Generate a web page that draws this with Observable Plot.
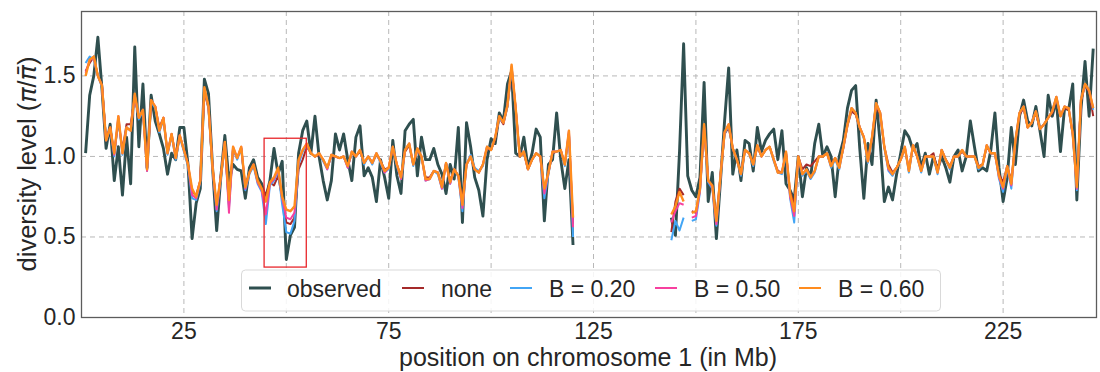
<!DOCTYPE html>
<html><head><meta charset="utf-8">
<script src="https://cdn.jsdelivr.net/npm/d3@7"></script>
<script src="https://cdn.jsdelivr.net/npm/@observablehq/plot@0.6"></script>
<style>
body{margin:0;background:#fff;}
#chart{width:1100px;height:372px;}
</style>
</head><body><div id="chart"></div>
<script>
// ---- data (positions in Mb) ----
const segA = d3.range(1, 121);     // 1..120 Mb
const segB = d3.range(144, 248);   // 144..247 Mb
const positions = segA.concat(segB);

const xTicks = [25, 75, 125, 175, 225];
const xGrid = [25, 50, 75, 100, 125, 150, 175, 200, 225];
const yTicks = [0.0, 0.5, 1.0, 1.5];
const yGrid = [0.5, 1.0, 1.5];
const seriesNames = ["observed", "none", "B = 0.20", "B = 0.50", "B = 0.60"];
const seriesColors = ["#2f4f4f", "#a52a2a", "#42a5f5", "#f7409f", "#ff8c1e"];
const highlight = {x1: 44.7, x2: 55.0, y1: 0.31, y2: 1.11};

const observed = [
 1.02,1.38,1.50,1.74,1.42,1.05,1.20,0.85,1.06,0.76,
 1.12,0.83,1.68,1.06,1.45,0.93,1.38,1.22,1.14,1.05,
 0.89,1.02,0.98,1.18,1.18,0.95,0.49,0.71,0.80,1.48,
 1.39,0.93,0.54,0.87,1.13,0.85,0.95,0.92,0.91,0.74,
 0.93,0.98,0.87,0.83,0.74,0.85,1.05,0.89,0.97,0.36,
 0.51,0.56,1.02,1.16,1.22,1.02,1.25,1.00,0.85,0.73,
 0.85,1.14,1.04,1.14,0.98,0.85,1.12,1.19,0.88,0.93,
 0.87,0.72,0.98,0.87,0.74,1.10,0.88,0.77,1.16,1.20,
 1.23,0.88,1.12,0.98,0.98,1.05,0.95,0.89,0.77,0.95,
 0.86,1.18,0.59,1.21,1.06,0.87,0.79,0.63,0.98,1.11,
 1.08,1.27,1.22,1.45,1.53,1.02,1.00,1.12,0.93,1.02,
 1.17,1.12,0.60,0.95,0.98,1.27,0.98,0.80,0.98,0.45,
 0.62,0.51,1.03,1.70,0.88,0.79,0.75,0.87,1.46,0.72,
 0.90,0.49,0.85,1.22,1.55,0.89,1.04,0.85,1.10,1.08,
 0.91,1.18,1.03,1.10,1.14,1.17,0.98,1.16,0.83,0.79,
 0.73,1.00,0.75,0.93,0.87,1.08,1.20,1.00,1.06,1.00,
 0.75,1.00,1.10,1.30,1.41,1.44,1.05,0.74,1.08,0.95,
 1.35,1.08,0.72,0.81,0.73,0.89,1.02,1.16,1.12,1.04,
 1.08,0.93,1.02,0.89,1.00,0.92,1.00,0.93,0.84,1.00,
 1.04,0.91,1.00,1.22,1.06,0.91,0.93,0.91,1.04,1.27,
 0.93,0.72,0.87,1.18,0.95,1.25,1.35,1.22,1.19,1.31,
 1.16,1.00,1.38,1.25,1.35,1.03,1.30,1.29,1.45,0.73,
 1.29,1.59,1.25,1.67
];

const none = [
 1.53,1.58,1.62,1.50,1.44,1.10,1.18,1.02,1.22,1.04,
 1.20,1.20,1.37,1.24,1.28,0.95,1.33,1.31,1.18,1.24,
 1.02,1.14,1.00,1.13,1.04,0.95,0.78,0.76,0.85,1.40,
 1.30,0.93,0.68,0.88,1.08,0.70,1.05,0.99,1.05,0.81,
 0.90,0.95,0.85,0.80,0.76,0.84,0.82,0.88,0.74,0.59,
 0.58,0.62,0.92,0.98,1.06,1.02,1.00,1.01,0.98,0.93,
 1.00,1.00,0.99,1.00,0.94,1.02,1.00,1.03,0.96,1.00,
 0.96,1.01,0.97,0.92,0.93,1.05,0.95,0.88,1.03,1.07,
 0.95,1.04,1.00,0.87,0.87,0.91,0.90,0.82,0.96,0.85,
 0.92,0.88,0.72,0.95,1.00,0.92,0.90,0.95,1.05,1.04,
 1.11,1.24,1.20,1.31,1.54,1.30,1.00,1.02,0.92,0.98,
 1.02,1.00,0.79,0.90,1.02,1.03,1.04,0.95,1.14,0.58,
 0.53,0.72,0.80,0.76,null,0.66,0.65,0.80,1.18,0.85,
 0.82,0.62,0.88,1.14,1.18,1.05,0.98,0.90,1.04,1.02,
 0.95,1.06,1.00,1.04,1.06,0.98,0.91,0.90,1.02,0.78,
 0.70,1.00,0.92,0.95,0.94,0.97,1.00,1.00,1.02,0.95,
 0.99,0.94,1.05,1.19,1.28,1.26,1.18,1.12,0.97,1.11,
 1.31,1.26,1.06,0.95,0.90,0.93,0.98,1.05,0.92,1.06,
 1.00,0.92,1.00,1.00,1.02,0.91,1.04,0.98,0.94,1.00,
 1.00,1.03,1.00,1.00,1.00,0.94,0.95,1.06,1.02,1.02,
 0.89,0.84,0.94,0.85,1.09,1.26,1.30,1.18,1.21,1.27,
 1.17,1.20,1.24,1.27,1.36,1.25,1.30,1.29,1.14,0.82,
 1.34,1.44,1.40,1.25
];

const b020 = [
 1.58,1.62,1.60,1.50,1.43,1.10,1.17,1.00,1.24,1.01,
 1.18,1.16,1.38,1.23,1.28,0.91,1.34,1.30,1.15,1.23,
 1.01,1.13,0.98,1.12,1.03,0.94,0.74,0.73,0.84,1.42,
 1.30,0.92,0.66,0.86,1.08,0.68,1.05,0.98,1.05,0.79,
 0.89,0.94,0.83,0.78,0.58,0.82,0.85,0.91,0.70,0.53,
 0.52,0.60,0.95,1.03,1.07,1.02,1.00,1.02,0.97,0.92,
 1.01,1.00,0.99,1.00,0.93,1.03,1.00,1.04,0.95,1.00,
 0.95,1.02,0.96,0.90,0.92,1.06,0.94,0.86,1.04,1.08,
 0.94,1.05,1.00,0.85,0.86,0.91,0.89,0.80,0.96,0.83,
 0.92,0.87,0.66,0.95,1.01,0.93,0.91,0.94,1.06,1.04,
 1.12,1.24,1.21,1.31,1.55,1.29,1.00,1.03,0.92,0.98,
 1.02,1.00,0.74,0.89,1.03,1.03,1.04,0.94,1.15,0.50,
 0.48,0.60,0.54,0.62,null,0.60,0.61,0.78,1.18,0.84,
 0.80,0.57,0.87,1.14,1.19,1.05,0.98,0.88,1.04,1.02,
 0.94,1.07,1.00,1.04,1.06,0.97,0.90,0.89,1.02,0.74,
 0.59,1.00,0.88,0.91,0.86,0.90,1.00,1.00,1.02,0.93,
 0.98,0.92,1.06,1.20,1.30,1.27,1.18,1.11,0.96,1.12,
 1.33,1.27,1.05,0.91,0.88,0.93,0.98,1.06,0.90,1.07,
 1.00,0.90,1.00,1.00,1.00,0.89,1.04,0.98,0.92,1.00,
 1.00,1.04,1.00,1.00,1.00,0.92,0.95,1.07,1.02,1.02,
 0.86,0.78,0.93,0.80,1.10,1.27,1.31,1.18,1.21,1.28,
 1.17,1.20,1.24,1.28,1.37,1.25,1.31,1.30,1.13,0.79,
 1.35,1.45,1.41,1.29
];

const b050 = [
 1.52,1.60,1.61,1.50,1.44,1.10,1.18,1.01,1.25,1.02,
 1.18,1.16,1.38,1.24,1.29,0.91,1.35,1.31,1.16,1.24,
 1.02,1.14,0.99,1.13,1.04,0.95,0.76,0.74,0.85,1.42,
 1.31,0.93,0.67,0.87,1.09,0.65,1.06,0.99,1.06,0.80,
 0.90,0.95,0.84,0.79,0.64,0.83,0.86,0.92,0.74,0.62,
 0.61,0.65,0.97,1.04,1.08,1.02,1.00,1.02,0.98,0.92,
 1.01,1.00,0.99,1.00,0.93,1.03,1.00,1.04,0.96,1.00,
 0.96,1.02,0.97,0.90,0.93,1.06,0.95,0.86,1.04,1.08,
 0.95,1.05,1.00,0.85,0.86,0.91,0.90,0.80,0.96,0.83,
 0.92,0.88,0.68,0.95,1.00,0.92,0.90,0.95,1.06,1.04,
 1.12,1.25,1.21,1.32,1.56,1.30,1.00,1.03,0.92,0.98,
 1.02,1.00,0.77,0.90,1.03,1.03,1.04,0.95,1.16,0.56,
 0.59,0.66,0.71,0.70,null,0.62,0.63,0.79,1.19,0.85,
 0.81,0.58,0.88,1.15,1.20,1.05,0.98,0.89,1.04,1.02,
 0.95,1.07,1.00,1.04,1.06,0.98,0.90,0.90,1.03,0.75,
 0.63,1.00,0.89,0.92,0.87,0.91,1.00,1.00,1.02,0.94,
 0.99,0.93,1.06,1.20,1.30,1.27,1.18,1.12,0.97,1.12,
 1.33,1.27,1.06,0.92,0.89,0.93,0.98,1.06,0.91,1.07,
 1.00,0.91,1.00,1.00,1.00,0.90,1.04,0.98,0.93,1.00,
 1.00,1.04,1.00,1.00,1.00,0.93,0.95,1.07,1.02,1.02,
 0.87,0.80,0.94,0.82,1.10,1.27,1.31,1.18,1.21,1.28,
 1.17,1.20,1.24,1.28,1.37,1.25,1.31,1.30,1.14,0.80,
 1.35,1.45,1.41,1.30
];

const b060 = [
 1.50,1.60,1.62,1.50,1.44,1.10,1.18,1.02,1.25,1.02,
 1.18,1.16,1.39,1.24,1.29,0.92,1.35,1.31,1.16,1.24,
 1.02,1.14,0.99,1.13,1.04,0.95,0.80,0.75,0.85,1.43,
 1.31,0.93,0.70,0.87,1.09,0.73,1.06,0.99,1.06,0.81,
 0.90,0.95,0.85,0.80,0.72,0.84,0.87,0.93,0.75,0.67,
 0.66,0.69,0.98,1.04,1.08,1.02,1.00,1.02,0.98,0.93,
 1.01,1.00,0.99,1.00,0.94,1.03,1.00,1.04,0.96,1.00,
 0.96,1.02,0.97,0.91,0.93,1.06,0.95,0.87,1.04,1.08,
 0.95,1.05,1.00,0.86,0.86,0.91,0.90,0.81,0.96,0.84,
 0.92,0.88,0.70,0.95,1.00,0.92,0.90,0.95,1.06,1.04,
 1.12,1.25,1.21,1.32,1.57,1.30,1.00,1.03,0.92,0.98,
 1.02,1.00,0.80,0.90,1.03,1.03,1.04,0.95,1.16,0.62,
 0.64,0.69,0.78,0.72,null,0.65,0.66,0.80,1.20,0.85,
 0.82,0.60,0.88,1.15,1.20,1.05,0.98,0.89,1.04,1.02,
 0.95,1.07,1.00,1.04,1.06,0.98,0.90,0.90,1.03,0.77,
 0.66,1.00,0.89,0.92,0.87,0.91,1.00,1.00,1.02,0.94,
 0.99,0.93,1.06,1.20,1.30,1.27,1.18,1.12,0.97,1.12,
 1.33,1.27,1.06,0.93,0.89,0.93,0.98,1.06,0.91,1.07,
 1.00,0.91,1.00,1.00,1.00,0.90,1.04,0.98,0.93,1.00,
 1.00,1.04,1.00,1.00,1.00,0.93,0.95,1.07,1.02,1.02,
 0.88,0.81,0.94,0.83,1.10,1.27,1.31,1.18,1.21,1.28,
 1.17,1.20,1.24,1.28,1.37,1.25,1.31,1.30,1.14,0.81,
 1.35,1.45,1.41,1.30
];

const seriesValues = [observed, none, b020, b050, b060];
const seriesWidths = [2.9, 2, 2, 2, 2.4];

// build long table
const rows = seriesNames.flatMap((name, k) =>
  seriesValues[k].map((v, i) => ({
    series: name,
    pos: positions[i],
    value: v,
    seg: positions[i] < 130 ? "a" : "b"
  }))
);

const font = "'Liberation Sans', Arial, Helvetica, sans-serif";

const lineMarks = seriesNames.map((name, k) =>
  Plot.line(rows.filter(d => d.series === name), {
    x: "pos", y: "value", z: "seg",
    stroke: seriesColors[k], strokeWidth: seriesWidths[k],
    strokeLinejoin: "round", strokeLinecap: "butt"
  })
);

const chart = Plot.plot({
  width: 1100,
  height: 372,
  marginLeft: 81,
  marginRight: 4,
  marginTop: 11,
  marginBottom: 55,
  style: {fontFamily: font, fontSize: "23px", color: "#262626", background: "#ffffff"},
  x: {domain: [0, 247.8]},
  y: {domain: [0, 1.90]},
  marks: [
    Plot.gridX(xGrid, {stroke: "#b8b8b8", strokeOpacity: 1, strokeWidth: 1, strokeDasharray: "5,4"}),
    Plot.gridY(yGrid, {stroke: "#b8b8b8", strokeOpacity: 1, strokeWidth: 1, strokeDasharray: "5,4"}),
    Plot.axisX(xTicks, {tickSize: 0, tickPadding: 5, label: null, fontSize: 23}),
    Plot.axisY(yTicks, {tickSize: 0, tickPadding: 6, label: null, fontSize: 23, tickFormat: d => d.toFixed(1)}),
    ...lineMarks,
    Plot.rect([highlight], {x1: "x1", x2: "x2", y1: "y1", y2: "y2", fill: "none", stroke: "#e8262b", strokeWidth: 1.3}),
    Plot.frame({stroke: "#5c5c5c", strokeWidth: 1.3})
  ]
});

document.getElementById("chart").appendChild(chart);

const svg = d3.select(chart);

// axis titles
svg.append("text")
  .attr("x", 588).attr("y", 366)
  .attr("text-anchor", "middle")
  .style("font-family", font).style("font-size", "25px").attr("fill", "#262626")
  .text("position on chromosome 1 (in Mb)");

const yl = svg.append("text")
  .attr("transform", "translate(36,164) rotate(-90)")
  .attr("text-anchor", "middle")
  .style("font-family", font).style("font-size", "25.5px").attr("fill", "#262626");
yl.append("tspan").text("diversity level (");
yl.append("tspan").style("font-style", "italic").style("font-family", "'DejaVu Sans', sans-serif").text("π");
yl.append("tspan").text("/");
yl.append("tspan").style("font-style", "italic").style("font-family", "'DejaVu Sans', sans-serif").text("π\u0304");
yl.append("tspan").text(")");

// legend
const lg = svg.append("g");
lg.append("rect")
  .attr("x", 241.5).attr("y", 270).attr("width", 699).attr("height", 41)
  .attr("rx", 4).attr("fill", "#ffffff").attr("fill-opacity", 0.85)
  .attr("stroke", "#d9d9d9").attr("stroke-width", 1);
const legendLineX = [249, 402, 510, 655, 799];
const legendTextX = [287, 441, 549, 694, 838];
seriesNames.forEach((name, k) => {
  lg.append("line")
    .attr("x1", legendLineX[k]).attr("x2", legendLineX[k] + 22)
    .attr("y1", 288).attr("y2", 288)
    .attr("stroke", seriesColors[k]).attr("stroke-width", k === 0 ? 3 : 2);
  lg.append("text")
    .attr("x", legendTextX[k]).attr("y", 297)
    .attr("text-anchor", "start")
    .style("font-family", font).style("font-size", "23px").attr("fill", "#262626")
    .text(name);
});
</script>
</body></html>
